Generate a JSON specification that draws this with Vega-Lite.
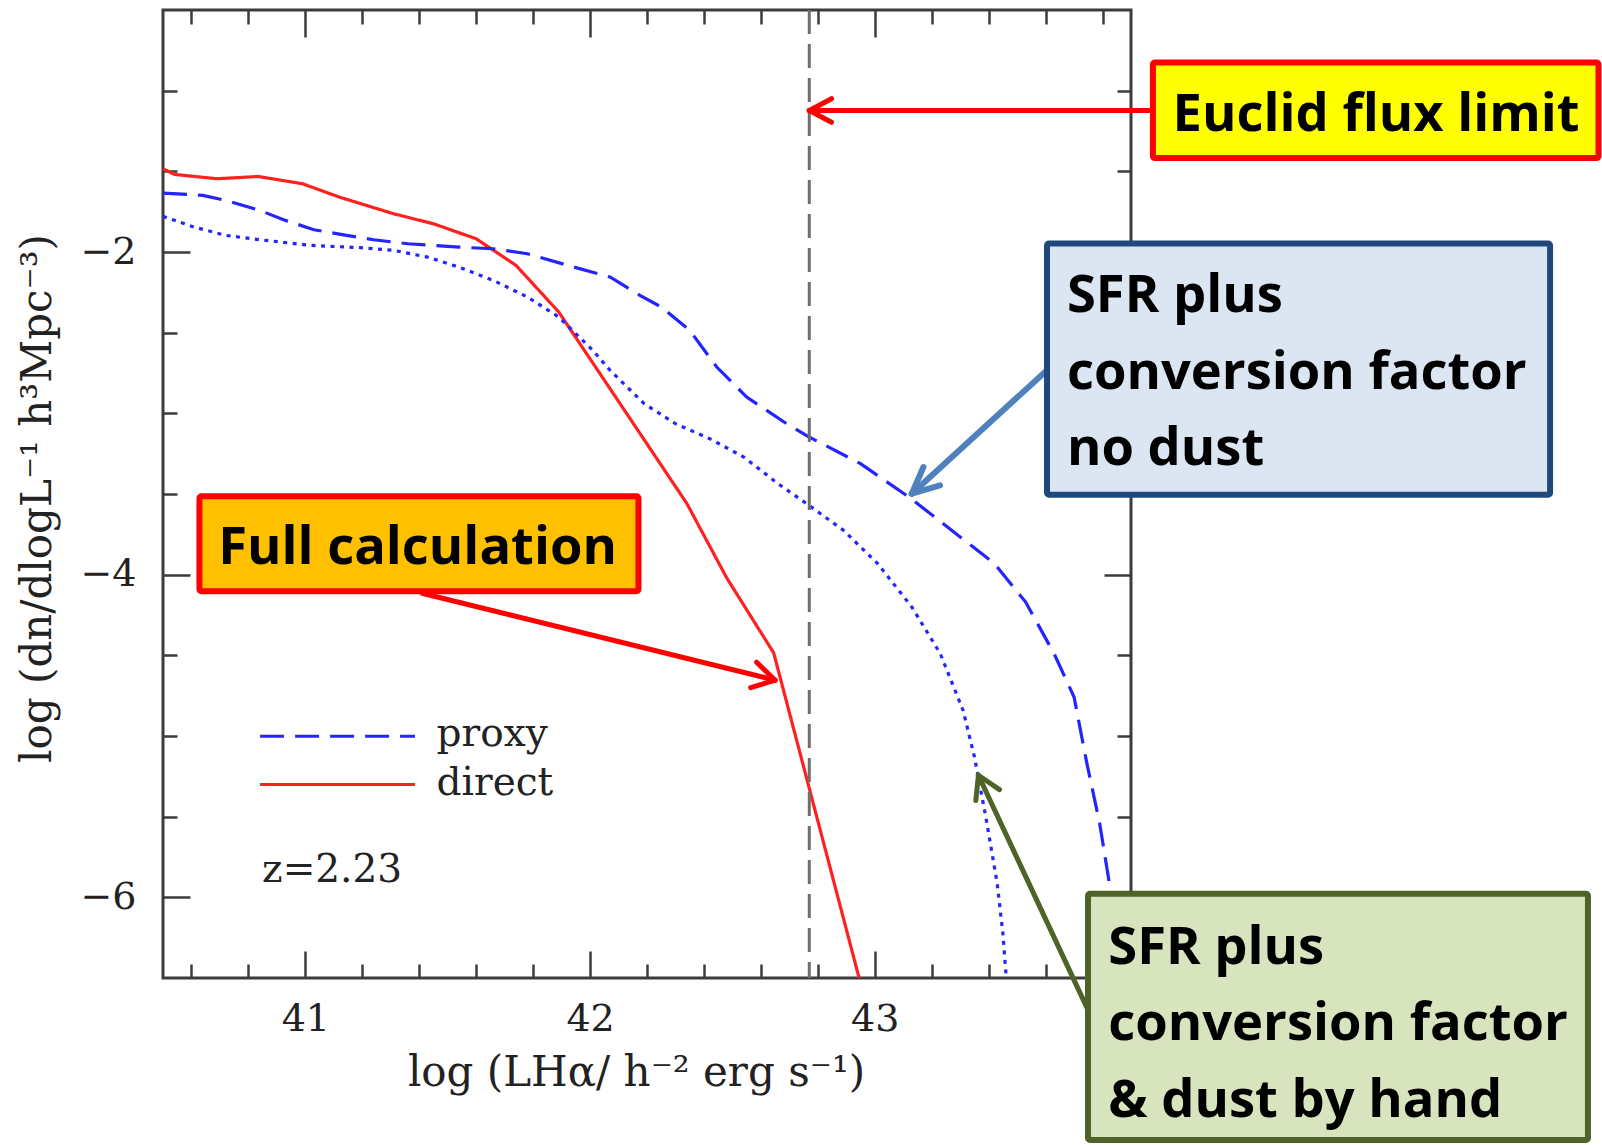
{
  "$schema": "https://vega.github.io/schema/vega-lite/v6.json",
  "width": 968,
  "height": 968,
  "autosize": "none",
  "padding": {"left": 163, "top": 10, "right": 471, "bottom": 167},
  "background": "white",
  "config": {"view": {"stroke": "#3c3c3c", "strokeWidth": 3}, "font": "DejaVu Serif"},
  "resolve": {"axis": {"x": "independent", "y": "independent"}},
  "layer": [
    {
      "data": {"values": [
        {"series": "direct", "x": 40.50, "y": -1.484},
        {"series": "direct", "x": 40.54, "y": -1.519},
        {"series": "direct", "x": 40.69, "y": -1.546},
        {"series": "direct", "x": 40.835, "y": -1.532},
        {"series": "direct", "x": 40.99, "y": -1.577},
        {"series": "direct", "x": 41.12, "y": -1.66},
        {"series": "direct", "x": 41.31, "y": -1.763},
        {"series": "direct", "x": 41.45, "y": -1.825},
        {"series": "direct", "x": 41.60, "y": -1.918},
        {"series": "direct", "x": 41.74, "y": -2.083},
        {"series": "direct", "x": 41.89, "y": -2.372},
        {"series": "direct", "x": 42.34, "y": -3.559},
        {"series": "direct", "x": 42.48, "y": -4.02},
        {"series": "direct", "x": 42.645, "y": -4.485},
        {"series": "direct", "x": 42.945, "y": -6.5},
        {"series": "proxy", "x": 40.50, "y": -1.635},
        {"series": "proxy", "x": 40.64, "y": -1.649},
        {"series": "proxy", "x": 40.72, "y": -1.68},
        {"series": "proxy", "x": 40.84, "y": -1.742},
        {"series": "proxy", "x": 40.93, "y": -1.804},
        {"series": "proxy", "x": 41.03, "y": -1.862},
        {"series": "proxy", "x": 41.145, "y": -1.897},
        {"series": "proxy", "x": 41.24, "y": -1.924},
        {"series": "proxy", "x": 41.36, "y": -1.949},
        {"series": "proxy", "x": 41.54, "y": -1.97},
        {"series": "proxy", "x": 41.66, "y": -1.98},
        {"series": "proxy", "x": 41.78, "y": -2.011},
        {"series": "proxy", "x": 41.95, "y": -2.097},
        {"series": "proxy", "x": 42.07, "y": -2.155},
        {"series": "proxy", "x": 42.175, "y": -2.269},
        {"series": "proxy", "x": 42.25, "y": -2.341},
        {"series": "proxy", "x": 42.35, "y": -2.486},
        {"series": "proxy", "x": 42.445, "y": -2.713},
        {"series": "proxy", "x": 42.55, "y": -2.899},
        {"series": "proxy", "x": 42.69, "y": -3.064},
        {"series": "proxy", "x": 42.77, "y": -3.147},
        {"series": "proxy", "x": 42.95, "y": -3.312},
        {"series": "proxy", "x": 43.12, "y": -3.519},
        {"series": "proxy", "x": 43.30, "y": -3.766},
        {"series": "proxy", "x": 43.42, "y": -3.931},
        {"series": "proxy", "x": 43.53, "y": -4.17},
        {"series": "proxy", "x": 43.63, "y": -4.49},
        {"series": "proxy", "x": 43.70, "y": -4.758},
        {"series": "proxy", "x": 43.745, "y": -5.17},
        {"series": "proxy", "x": 43.79, "y": -5.542},
        {"series": "proxy", "x": 43.826, "y": -5.935},
        {"series": "proxy", "x": 43.86, "y": -6.5},
        {"series": "dust", "x": 40.50, "y": -1.779},
        {"series": "dust", "x": 40.61, "y": -1.846},
        {"series": "dust", "x": 40.72, "y": -1.897},
        {"series": "dust", "x": 40.84, "y": -1.924},
        {"series": "dust", "x": 41.02, "y": -1.959},
        {"series": "dust", "x": 41.19, "y": -1.973},
        {"series": "dust", "x": 41.31, "y": -1.99},
        {"series": "dust", "x": 41.43, "y": -2.032},
        {"series": "dust", "x": 41.54, "y": -2.094},
        {"series": "dust", "x": 41.66, "y": -2.176},
        {"series": "dust", "x": 41.78, "y": -2.279},
        {"series": "dust", "x": 41.89, "y": -2.403},
        {"series": "dust", "x": 42.01, "y": -2.61},
        {"series": "dust", "x": 42.07, "y": -2.733},
        {"series": "dust", "x": 42.19, "y": -2.94},
        {"series": "dust", "x": 42.30, "y": -3.064},
        {"series": "dust", "x": 42.42, "y": -3.157},
        {"series": "dust", "x": 42.54, "y": -3.271},
        {"series": "dust", "x": 42.66, "y": -3.436},
        {"series": "dust", "x": 42.76, "y": -3.559},
        {"series": "dust", "x": 42.89, "y": -3.725},
        {"series": "dust", "x": 43.01, "y": -3.931},
        {"series": "dust", "x": 43.13, "y": -4.2},
        {"series": "dust", "x": 43.23, "y": -4.489},
        {"series": "dust", "x": 43.31, "y": -4.84},
        {"series": "dust", "x": 43.35, "y": -5.129},
        {"series": "dust", "x": 43.39, "y": -5.501},
        {"series": "dust", "x": 43.43, "y": -5.914},
        {"series": "dust", "x": 43.45, "y": -6.224},
        {"series": "dust", "x": 43.462, "y": -6.5}
      ]},
      "mark": {"type": "line", "clip": true, "strokeWidth": 3.2, "strokeCap": "butt"},
      "encoding": {
        "x": {"field": "x", "type": "quantitative", "scale": {"domain": [40.5, 43.9], "nice": false, "zero": false},
          "axis": {"orient": "bottom", "values": [41, 42, 43], "ticks": false, "tickSize": 0, "domain": false, "grid": false,
            "labelFont": "DejaVu Serif", "labelFontSize": 38, "labelColor": "#222222", "labelPadding": 22, "labelFlush": false,
            "title": "log (LHα/ h⁻² erg s⁻¹)", "titleFont": "DejaVu Serif", "titleFontSize": 42, "titleFontWeight": "normal",
            "titleColor": "#222222", "titleX": 473, "titleY": 107, "titleBaseline": "alphabetic"}},
        "y": {"field": "y", "type": "quantitative", "scale": {"domain": [-6.5, -0.5], "nice": false, "zero": false},
          "axis": {"orient": "left", "values": [-2, -4, -6], "ticks": false, "tickSize": 0, "domain": false, "grid": false,
            "labelFont": "DejaVu Serif", "labelFontSize": 38, "labelColor": "#222222", "labelPadding": 27, "labelFlush": false,
            "title": "log (dn/dlogL⁻¹ h³Mpc⁻³)", "titleFont": "DejaVu Serif", "titleFontSize": 42, "titleFontWeight": "normal",
            "titleColor": "#222222", "titleX": -126, "titleY": 488, "titleBaseline": "middle", "titleAngle": -90}},
        "color": {"field": "series", "type": "nominal", "scale": {"domain": ["proxy", "direct", "dust"], "range": ["#2424ff", "#ff2020", "#2424ff"]}, "legend": null},
        "strokeDash": {"field": "series", "type": "nominal", "scale": {"domain": ["proxy", "direct", "dust"], "range": [[24, 11], [1, 0], [4, 5.5]]}, "legend": null}
      }
    },
    {
      "data": {"values": [{"x": 42.77}]},
      "mark": {"type": "rule", "color": "#6e6e6e", "strokeWidth": 3, "strokeDash": [24, 10]},
      "encoding": {
        "x": {"field": "x", "type": "quantitative", "scale": {"domain": [40.5, 43.9], "nice": false, "zero": false},
          "axis": {"orient": "bottom", "values": [40.6, 40.8, 41.2, 41.4, 41.6, 41.8, 42.2, 42.4, 42.6, 42.8, 43.2, 43.4, 43.6, 43.8],
            "labels": false, "domain": false, "grid": false, "ticks": true, "tickSize": -14, "tickWidth": 2.5, "tickColor": "#3c3c3c", "title": null}}
      }
    },
    {
      "data": {"values": [
        {"series": "proxy", "x": 40.841, "x2": 41.385, "y": -5.001},
        {"series": "direct", "x": 40.841, "x2": 41.385, "y": -5.300}
      ]},
      "mark": {"type": "rule", "strokeWidth": 3, "strokeCap": "butt"},
      "encoding": {
        "x": {"field": "x", "type": "quantitative", "scale": {"domain": [40.5, 43.9], "nice": false, "zero": false},
          "axis": {"orient": "bottom", "values": [41, 42, 43], "labels": false, "domain": false, "grid": false, "ticks": true,
            "tickSize": -27, "tickWidth": 2.5, "tickColor": "#3c3c3c", "title": null}},
        "x2": {"field": "x2"},
        "y": {"field": "y", "type": "quantitative", "scale": {"domain": [-6.5, -0.5], "nice": false, "zero": false},
          "axis": {"orient": "left", "values": [-1, -1.5, -2.5, -3, -3.5, -4.5, -5, -5.5], "labels": false, "domain": false, "grid": false,
            "ticks": true, "tickSize": -14, "tickWidth": 2.5, "tickColor": "#3c3c3c", "title": null}},
        "color": {"field": "series", "type": "nominal", "scale": {"domain": ["proxy", "direct", "dust"], "range": ["#2424ff", "#ff2020", "#2424ff"]}, "legend": null},
        "strokeDash": {"field": "series", "type": "nominal", "scale": {"domain": ["proxy", "direct", "dust"], "range": [[17, 13], [1, 0], [4, 5.5]]}, "legend": null}
      }
    },
    {
      "data": {"values": [
        {"label": "proxy", "x": 41.461, "y": -5.063},
        {"label": "direct", "x": 41.461, "y": -5.367},
        {"label": "z=2.23", "x": 40.848, "y": -5.904}
      ]},
      "mark": {"type": "text", "align": "left", "baseline": "alphabetic", "font": "DejaVu Serif", "fontSize": 39, "color": "#222222"},
      "encoding": {
        "x": {"field": "x", "type": "quantitative", "scale": {"domain": [40.5, 43.9], "nice": false, "zero": false},
          "axis": {"orient": "top", "values": [40.6, 40.8, 41.2, 41.4, 41.6, 41.8, 42.2, 42.4, 42.6, 42.8, 43.2, 43.4, 43.6, 43.8],
            "labels": false, "domain": false, "grid": false, "ticks": true, "tickSize": -14, "tickWidth": 2.5, "tickColor": "#3c3c3c", "title": null}},
        "y": {"field": "y", "type": "quantitative", "scale": {"domain": [-6.5, -0.5], "nice": false, "zero": false},
          "axis": {"orient": "left", "values": [-2, -4, -6], "labels": false, "domain": false, "grid": false,
            "ticks": true, "tickSize": -27, "tickWidth": 2.5, "tickColor": "#3c3c3c", "title": null}},
        "text": {"field": "label", "type": "nominal"}
      }
    },
    {
      "data": {"values": [
        {"x": 43.967, "y": -1.123, "x2": 42.77, "y2": -1.123},
        {"x": 42.77, "y": -1.123, "x2": 42.848, "y2": -1.050},
        {"x": 42.77, "y": -1.123, "x2": 42.848, "y2": -1.196}
      ]},
      "mark": {"type": "rule", "color": "#ff0000", "strokeWidth": 5, "strokeCap": "round"},
      "encoding": {
        "x": {"field": "x", "type": "quantitative", "scale": {"domain": [40.5, 43.9], "nice": false, "zero": false},
          "axis": {"orient": "top", "values": [41, 42, 43], "labels": false, "domain": false, "grid": false, "ticks": true,
            "tickSize": -27, "tickWidth": 2.5, "tickColor": "#3c3c3c", "title": null}},
        "x2": {"field": "x2"},
        "y": {"field": "y", "type": "quantitative", "scale": {"domain": [-6.5, -0.5], "nice": false, "zero": false},
          "axis": {"orient": "right", "values": [-1, -1.5, -2.5, -3, -3.5, -4.5, -5, -5.5], "labels": false, "domain": false, "grid": false,
            "ticks": true, "tickSize": -14, "tickWidth": 2.5, "tickColor": "#3c3c3c", "title": null}},
        "y2": {"field": "y2"}
      }
    },
    {
      "data": {"values": [
        {"x": 41.410, "y": -4.115, "x2": 42.650, "y2": -4.654},
        {"x": 42.650, "y": -4.654, "x2": 42.585, "y2": -4.543},
        {"x": 42.650, "y": -4.654, "x2": 42.564, "y2": -4.700}
      ]},
      "mark": {"type": "rule", "color": "#ff0000", "strokeWidth": 5, "strokeCap": "round"},
      "encoding": {
        "x": {"field": "x", "type": "quantitative", "scale": {"domain": [40.5, 43.9], "nice": false, "zero": false}, "axis": null},
        "x2": {"field": "x2"},
        "y": {"field": "y", "type": "quantitative", "scale": {"domain": [-6.5, -0.5], "nice": false, "zero": false},
          "axis": {"orient": "right", "values": [-2, -4, -6], "labels": false, "domain": false, "grid": false,
            "ticks": true, "tickSize": -27, "tickWidth": 2.5, "tickColor": "#3c3c3c", "title": null}},
        "y2": {"field": "y2"}
      }
    },
    {
      "data": {"values": [
        {"x": 43.604, "y": -2.734, "x2": 43.130, "y2": -3.498},
        {"x": 43.130, "y": -3.498, "x2": 43.171, "y2": -3.333},
        {"x": 43.130, "y": -3.498, "x2": 43.229, "y2": -3.446}
      ]},
      "mark": {"type": "rule", "color": "#4f81bd", "strokeWidth": 6, "strokeCap": "round"},
      "encoding": {
        "x": {"field": "x", "type": "quantitative", "scale": {"domain": [40.5, 43.9], "nice": false, "zero": false}, "axis": null},
        "x2": {"field": "x2"},
        "y": {"field": "y", "type": "quantitative", "scale": {"domain": [-6.5, -0.5], "nice": false, "zero": false}, "axis": null},
        "y2": {"field": "y2"}
      }
    },
    {
      "data": {"values": [
        {"x": 43.746, "y": -6.687, "x2": 43.364, "y2": -5.243},
        {"x": 43.364, "y": -5.243, "x2": 43.438, "y2": -5.332},
        {"x": 43.364, "y": -5.243, "x2": 43.355, "y2": -5.400}
      ]},
      "mark": {"type": "rule", "color": "#4f6228", "strokeWidth": 5, "strokeCap": "round"},
      "encoding": {
        "x": {"field": "x", "type": "quantitative", "scale": {"domain": [40.5, 43.9], "nice": false, "zero": false}, "axis": null},
        "x2": {"field": "x2"},
        "y": {"field": "y", "type": "quantitative", "scale": {"domain": [-6.5, -0.5], "nice": false, "zero": false}, "axis": null},
        "y2": {"field": "y2"}
      }
    },
    {
      "data": {"values": [{"x": 43.977, "x2": 45.542, "y": -0.825, "y2": -1.418}]},
      "mark": {"type": "rect", "fill": "#ffff00", "stroke": "#ff0000", "strokeWidth": 6, "cornerRadius": 2, "clip": false},
      "encoding": {
        "x": {"field": "x", "type": "quantitative", "scale": {"domain": [40.5, 43.9], "nice": false, "zero": false}, "axis": null},
        "x2": {"field": "x2"},
        "y": {"field": "y", "type": "quantitative", "scale": {"domain": [-6.5, -0.5], "nice": false, "zero": false}, "axis": null},
        "y2": {"field": "y2"}
      }
    },
    {
      "data": {"values": [{"x": 40.628, "x2": 42.170, "y": -3.514, "y2": -4.103}]},
      "mark": {"type": "rect", "fill": "#ffc000", "stroke": "#ff0000", "strokeWidth": 6, "cornerRadius": 2, "clip": false},
      "encoding": {
        "x": {"field": "x", "type": "quantitative", "scale": {"domain": [40.5, 43.9], "nice": false, "zero": false}, "axis": null},
        "x2": {"field": "x2"},
        "y": {"field": "y", "type": "quantitative", "scale": {"domain": [-6.5, -0.5], "nice": false, "zero": false}, "axis": null},
        "y2": {"field": "y2"}
      }
    },
    {
      "data": {"values": [{"x": 43.605, "x2": 45.372, "y": -1.947, "y2": -3.504}]},
      "mark": {"type": "rect", "fill": "#dce6f2", "stroke": "#1f497d", "strokeWidth": 6, "cornerRadius": 2, "clip": false},
      "encoding": {
        "x": {"field": "x", "type": "quantitative", "scale": {"domain": [40.5, 43.9], "nice": false, "zero": false}, "axis": null},
        "x2": {"field": "x2"},
        "y": {"field": "y", "type": "quantitative", "scale": {"domain": [-6.5, -0.5], "nice": false, "zero": false}, "axis": null},
        "y2": {"field": "y2"}
      }
    },
    {
      "data": {"values": [{"x": 43.749, "x2": 45.505, "y": -5.978, "y2": -7.504}]},
      "mark": {"type": "rect", "fill": "#d7e4bd", "stroke": "#4f6228", "strokeWidth": 6, "cornerRadius": 2, "clip": false},
      "encoding": {
        "x": {"field": "x", "type": "quantitative", "scale": {"domain": [40.5, 43.9], "nice": false, "zero": false}, "axis": null},
        "x2": {"field": "x2"},
        "y": {"field": "y", "type": "quantitative", "scale": {"domain": [-6.5, -0.5], "nice": false, "zero": false}, "axis": null},
        "y2": {"field": "y2"}
      }
    },
    {
      "data": {"values": [
        {"label": "Euclid flux limit", "x": 44.761, "y": -1.251},
        {"label": "Full calculation", "x": 41.394, "y": -3.931}
      ]},
      "mark": {"type": "text", "align": "center", "baseline": "alphabetic", "font": "Open Sans", "fontWeight": "bold", "fontSize": 52.5, "color": "#000000", "clip": false},
      "encoding": {
        "x": {"field": "x", "type": "quantitative", "scale": {"domain": [40.5, 43.9], "nice": false, "zero": false}, "axis": null},
        "y": {"field": "y", "type": "quantitative", "scale": {"domain": [-6.5, -0.5], "nice": false, "zero": false}, "axis": null},
        "text": {"field": "label", "type": "nominal"}
      }
    },
    {
      "data": {"values": [
        {"label": "SFR plus\nconversion factor\nno dust", "x": 43.675, "y": -2.372},
        {"label": "SFR plus\nconversion factor\n& dust by hand", "x": 43.820, "y": -6.411}
      ]},
      "mark": {"type": "text", "align": "left", "baseline": "alphabetic", "font": "Open Sans", "fontWeight": "bold", "fontSize": 52.5, "lineHeight": 76.7, "lineBreak": "\n", "color": "#000000", "clip": false},
      "encoding": {
        "x": {"field": "x", "type": "quantitative", "scale": {"domain": [40.5, 43.9], "nice": false, "zero": false}, "axis": null},
        "y": {"field": "y", "type": "quantitative", "scale": {"domain": [-6.5, -0.5], "nice": false, "zero": false}, "axis": null},
        "text": {"field": "label", "type": "nominal"}
      }
    }
  ]
}
